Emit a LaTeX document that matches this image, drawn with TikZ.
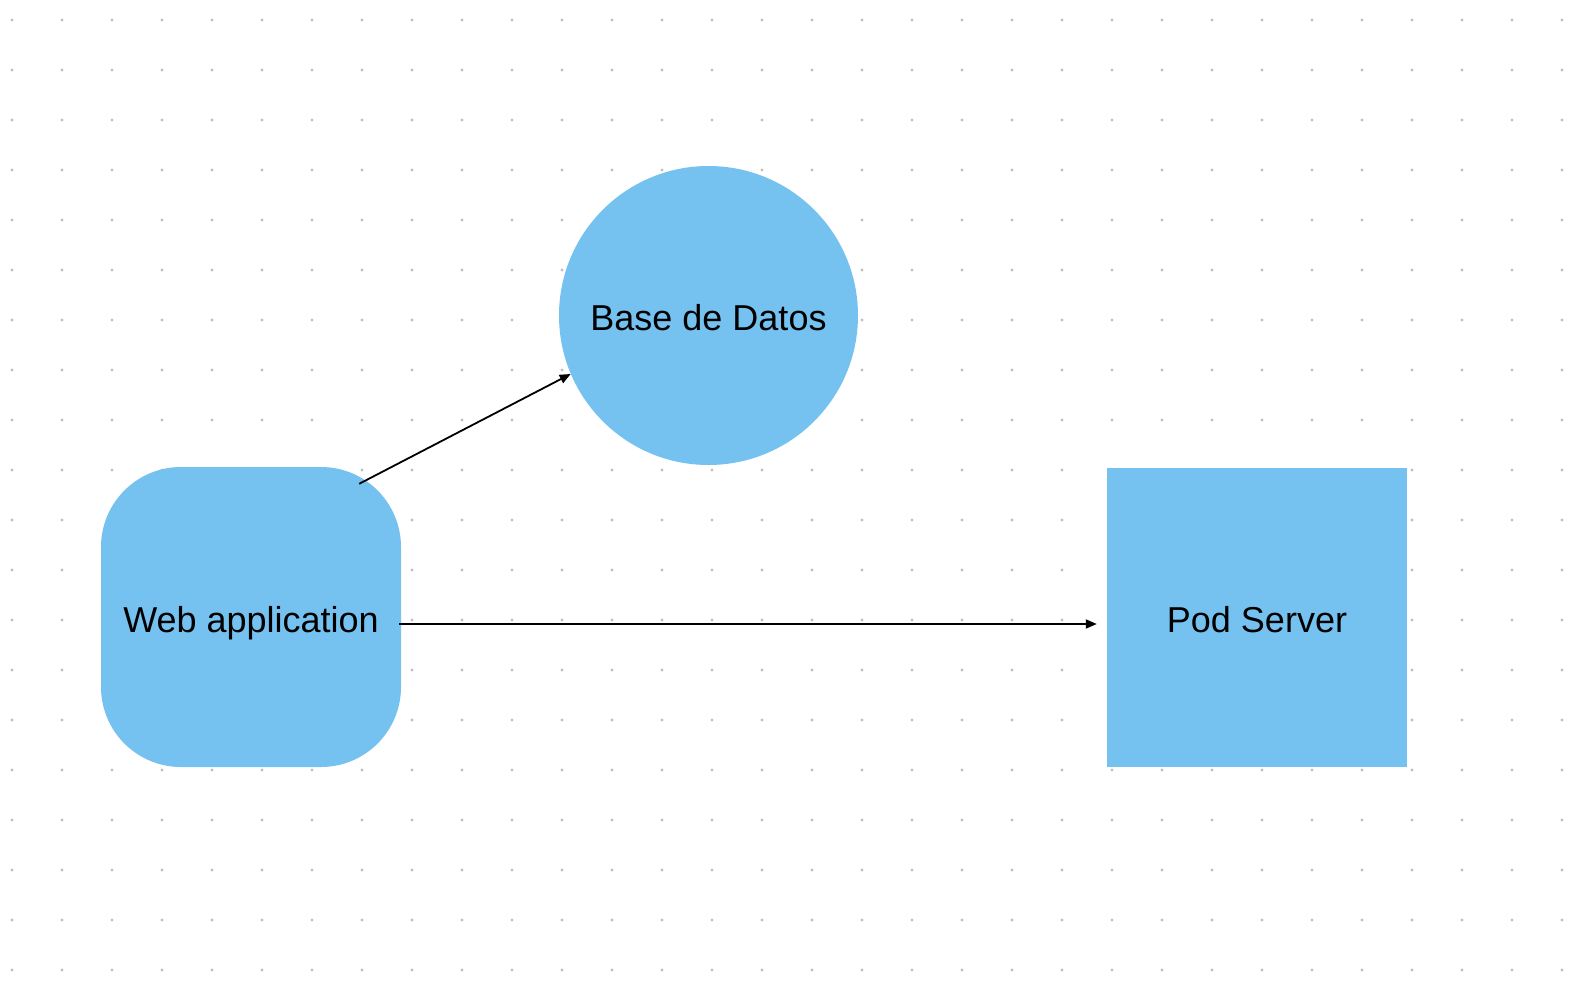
\documentclass[tikz,border=0pt]{standalone}
\usepackage{fontspec}
\setmainfont{Liberation Sans}
\usetikzlibrary{arrows.meta,calc}
\definecolor{boxblue}{RGB}{117,194,240}
\definecolor{dotgray}{RGB}{192,192,192}
\begin{document}
\begin{tikzpicture}[x=1pt,y=-1pt,
  shapebox/.style={fill=boxblue,draw=none,inner sep=0pt,text height=30pt,text depth=0pt,font=\fontsize{36}{42}\selectfont},
  conn/.style={line width=1.8pt,-{Triangle[length=11pt,width=9pt]}}]
\useasboundingbox (0,0) rectangle (1596,998);
\fill[white] (0,0) rectangle (1596,998);
\foreach \i in {0,...,31}{
  \foreach \j in {0,...,19}{
    \fill[dotgray] (12+50*\i,20+50*\j) circle (1.6);
  }
}
\node[shapebox,rectangle,rounded corners=80pt,minimum width=300pt,minimum height=300pt] (web) at (251,617) {Web application};
\node[shapebox,circle,minimum size=299pt] (db) at (708.5,315.5) {Base de Datos};
\node[shapebox,rectangle,minimum width=300pt,minimum height=299pt] (pod) at (1257,617) {Pod Server};
\coordinate (s1) at ($(web.north east)+(-42,17)$);
\coordinate (s2) at ($(web.east)+(-2,7)$);
\coordinate (e2) at ($(pod.west)+(-10,7)$);
\draw[conn] (s1) -- (db.203);
\draw[conn] (s2) -- (e2);
\end{tikzpicture}
\end{document}
